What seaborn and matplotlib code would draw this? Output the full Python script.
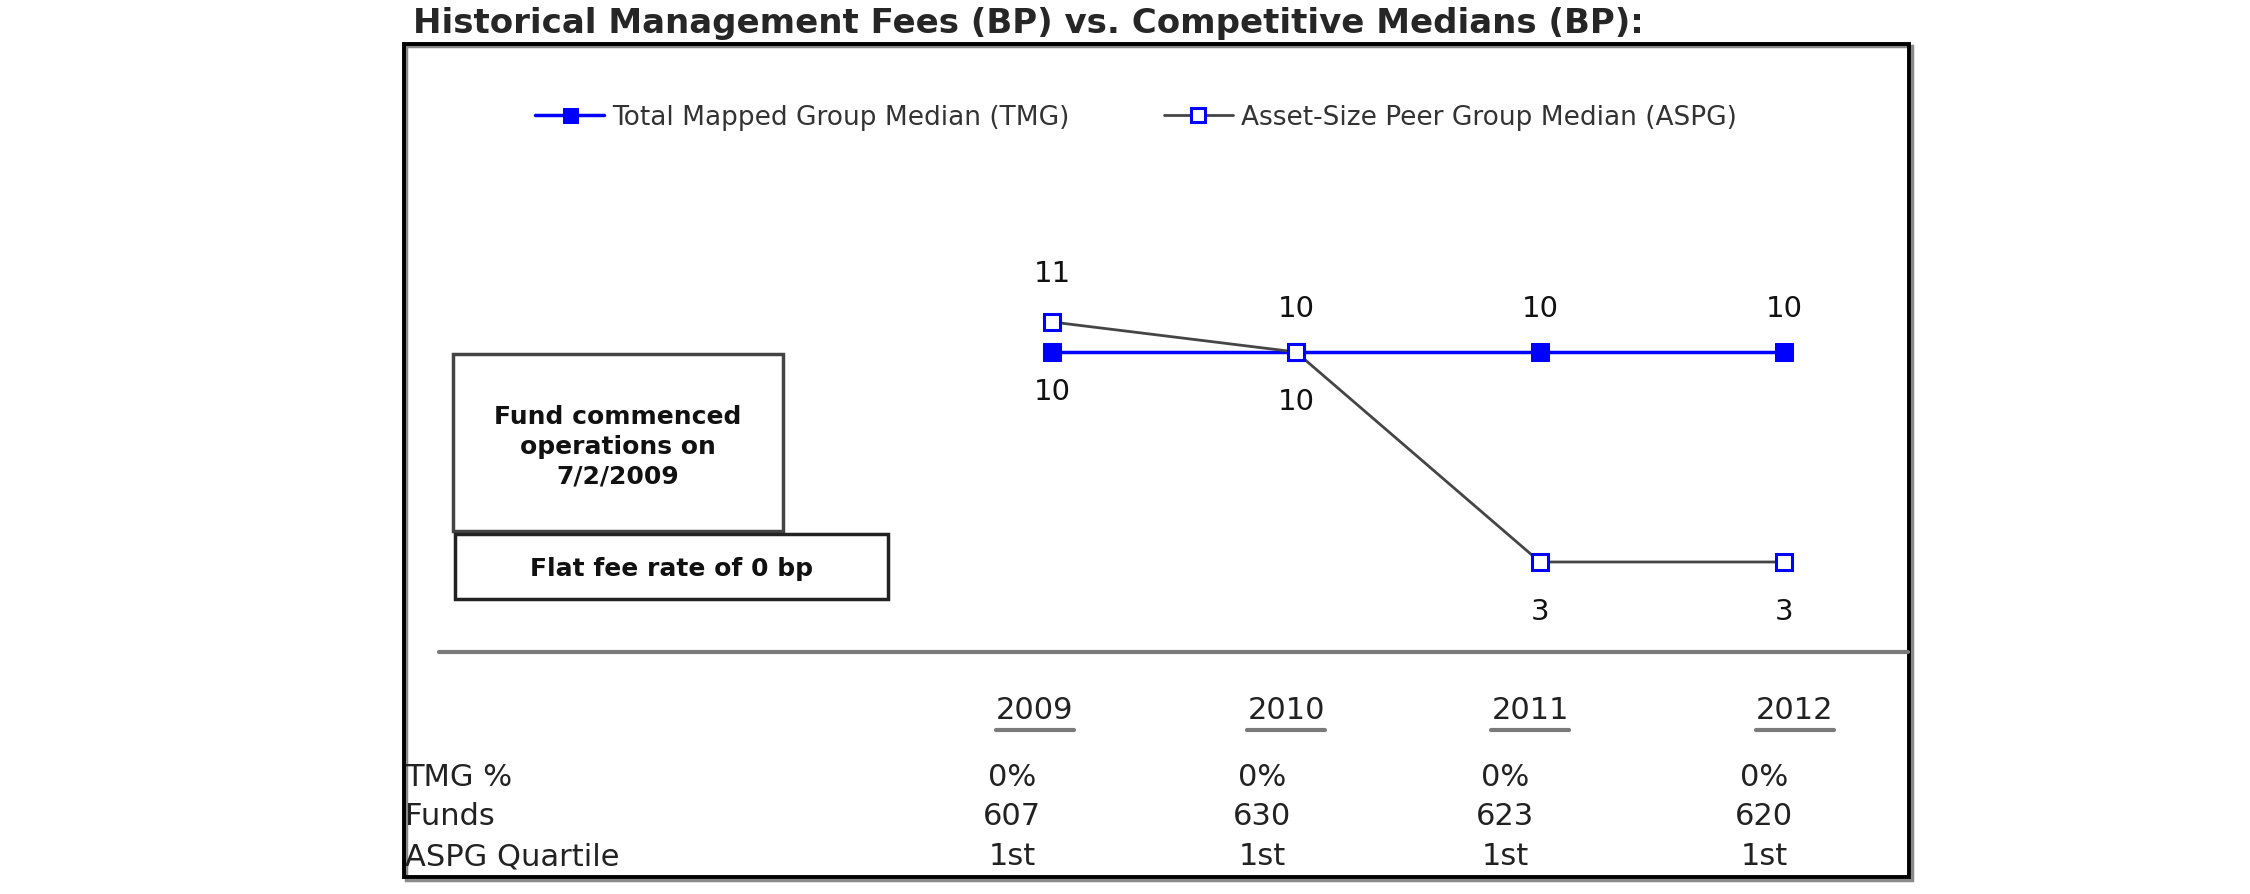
import matplotlib
matplotlib.use('Agg')
import matplotlib.pyplot as plt
import seaborn as sns
import pandas as pd
from matplotlib.patches import Rectangle
from matplotlib.lines import Line2D

# chart data
years = [2009, 2010, 2011, 2012]
tmg = [10, 10, 10, 10]
aspg = [11, 10, 3, 3]
tmg_name = 'Total Mapped Group Median (TMG)'
aspg_name = 'Asset-Size Peer Group Median (ASPG)'

# table under the chart
row_names = ['TMG %', 'Funds', 'ASPG Quartile']
tmg_pct = ['0%', '0%', '0%', '0%']
funds = ['607', '630', '623', '620']
quartile = ['1st', '1st', '1st', '1st']

title = 'Historical Management Fees (BP) vs. Competitive Medians (BP):'
note1 = 'Fund commenced\noperations on\n7/2/2009'
note2 = 'Flat fee rate of 0 bp'

sns.set_style('white')
plt.rcParams['font.family'] = ['DejaVu Sans']

W, H = 2250, 895
fig = plt.figure(figsize=(22.5, 8.95), dpi=100)


def fx(px):
    return px / W


def fy(py):
    return 1 - py / H


def frame(x0, y0, x1, y1, color, lw):
    fig.patches.append(Rectangle((fx(x0), fy(y1)), fx(x1) - fx(x0), fy(y0) - fy(y1),
                                 transform=fig.transFigure, fill=False,
                                 edgecolor=color, lw=lw))


# outer frame (black with grey shadow)
frame(406, 47, 1912, 881, '#8a8a8a', 2.5)
frame(404, 45, 1909, 878, 'black', 2.8)

fig.text(fx(413), fy(24), title, fontsize=24.5, fontweight='bold', va='center', ha='left')

# line chart axes: x in years, y in bp
ax = fig.add_axes([fx(930), fy(640), fx(1906) - fx(930), fy(250) - fy(640)])
df = pd.DataFrame({'year': years, 'TMG': tmg, 'ASPG': aspg})
sns.lineplot(data=df, x='year', y='TMG', ax=ax, color='#0000ff', lw=2.5,
             marker='s', markersize=13.5, markeredgecolor='#0000ff', label=tmg_name)
sns.lineplot(data=df, x='year', y='ASPG', ax=ax, color='#454545', lw=2,
             marker='s', markersize=12, markerfacecolor='white',
             markeredgecolor='#0000ff', markeredgewidth=2.2, label=aspg_name)
ax.set_xlim(2008.5, 2012.5)
ax.set_ylim(0.433, 13.433)
ax.axis('off')

for yr, t, a in zip(years, tmg, aspg):
    t_up = t >= a
    ax.annotate(str(t), (yr, t), xytext=(0, 32 if t_up else -28), textcoords='offset points',
                ha='center', va='center', fontsize=21, color='#111111')
    ax.annotate(str(a), (yr, a), xytext=(0, -35 if t_up else 35), textcoords='offset points',
                ha='center', va='center', fontsize=21, color='#111111')

leg = ax.legend(loc='center left', bbox_to_anchor=(fx(522), fy(118)),
                bbox_transform=fig.transFigure, ncol=2, frameon=False,
                fontsize=19, handlelength=2.6, handletextpad=0.3,
                columnspacing=3.6, borderpad=0, markerscale=0.8)
for txt in leg.get_texts():
    txt.set_color('#333333')

# note boxes
frame(453, 355, 783, 532, '#444444', 2.5)
fig.text(fx(618), fy(447), note1, fontsize=18, fontweight='bold', ha='center',
         va='center', linespacing=1.3, color='#111111')
frame(455, 535, 888, 600, '#222222', 2.5)
fig.text(fx(672), fy(569), note2, fontsize=18, fontweight='bold', ha='center',
         va='center', color='#111111')

# separator
fig.add_artist(Line2D([fx(439), fx(1908)], [fy(653), fy(653)], color='#7a7a7a', lw=3))

# table
head_x = [1035, 1286, 1530, 1795]
col_x = [1012, 1262, 1505, 1764]
row_y = [778, 817, 857]

heads = []
for x, yr in zip(head_x, years):
    heads.append(fig.text(fx(x), fy(711), str(yr), fontsize=22, ha='center', va='center',
                          color='#222222'))
fig.canvas.draw()
inv = fig.transFigure.inverted()
for t in heads:
    bb = t.get_window_extent().transformed(inv)
    fig.add_artist(Line2D([bb.x0, bb.x1], [fy(731), fy(731)], color='#7a7a7a', lw=3))

for name, y in zip(row_names, row_y):
    fig.text(fx(405), fy(y), name, fontsize=22, ha='left', va='center', color='#222222')
for vals, y in zip([tmg_pct, funds, quartile], row_y):
    for x, v in zip(col_x, vals):
        fig.text(fx(x), fy(y), v, fontsize=22, ha='center', va='center', color='#222222')

fig.savefig('out.png', dpi=100)
